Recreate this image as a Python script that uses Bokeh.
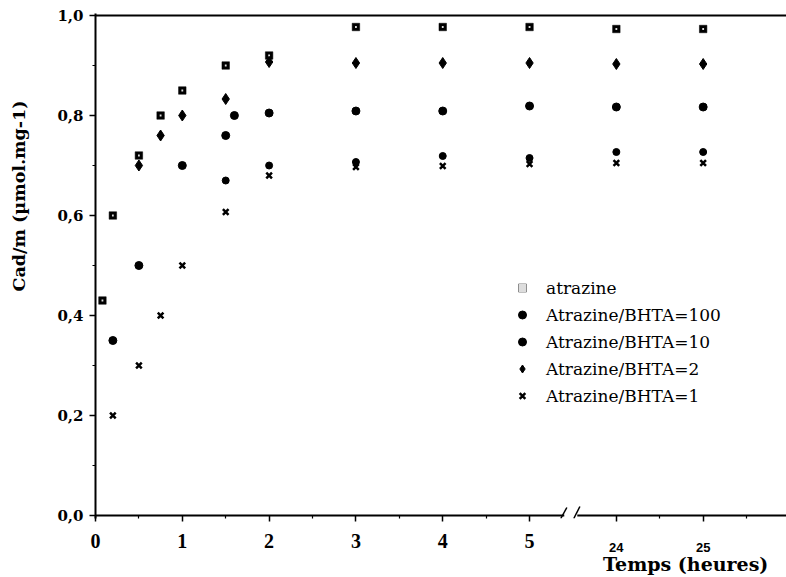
import numpy as np
from bokeh.plotting import figure
from bokeh.models import (FixedTicker, CustomJSTickFormatter, Span, LinearAxis,
                          Legend, LegendItem, Range1d)
from bokeh.embed import file_html
from bokeh.resources import INLINE

# ---------------- data (time in hours, Cad/m in umol/mg) ----------------
t_atrazine = [0.08, 0.2, 0.5, 0.75, 1.0, 1.5, 2.0, 3, 4, 5, 24, 25]
v_atrazine = [0.43, 0.60, 0.72, 0.80, 0.85, 0.90, 0.92, 0.977, 0.977, 0.977, 0.973, 0.973]

t_b100 = [1.5, 2.0, 3, 4, 5, 24, 25]
v_b100 = [0.67, 0.70, 0.707, 0.719, 0.715, 0.727, 0.727]

t_b10 = [0.2, 0.5, 1.0, 1.5, 1.6, 2.0, 3, 4, 5, 24, 25]
v_b10 = [0.35, 0.50, 0.70, 0.76, 0.80, 0.805, 0.809, 0.809, 0.819, 0.817, 0.817]

t_b2 = [0.5, 0.75, 1.0, 1.5, 2.0, 3, 4, 5, 24, 25]
v_b2 = [0.70, 0.76, 0.80, 0.833, 0.907, 0.905, 0.905, 0.905, 0.903, 0.903]

t_b1 = [0.2, 0.5, 0.75, 1.0, 1.5, 2.0, 3, 4, 5, 24, 25]
v_b1 = [0.20, 0.30, 0.40, 0.50, 0.607, 0.68, 0.697, 0.699, 0.703, 0.705, 0.705]

labels = ["atrazine", "Atrazine/BHTA=100", "Atrazine/BHTA=10",
          "Atrazine/BHTA=2", "Atrazine/BHTA=1"]

x_ticks_low = [0, 1, 2, 3, 4, 5]
x_ticks_high = [24, 25]
y_ticks = [0.0, 0.2, 0.4, 0.6, 0.8, 1.0]
y_minor = [0.1, 0.3, 0.5, 0.7, 0.9]

x_title = "Temps  (heures)"
y_title = "Cad/m  (\u00b5mol.mg-1)"

# broken time axis: hours >= 24 are moved to sit just after the break
SHIFT = 18.0
BREAK = (5.40, 5.55)
def pos(t):
    t = np.asarray(t, dtype=float)
    return np.where(t >= 12, t - SHIFT, t)

X_END = 7.96
NB = "\u00a0"

p = figure(width=786, height=577, x_range=Range1d(0, X_END), y_range=Range1d(-0.006, 1.004),
           output_backend="svg", toolbar_location=None,
           min_border_left=95, min_border_right=0, min_border_top=13, min_border_bottom=59)
p.grid.visible = False
p.outline_line_color = None
p.background_fill_color = "white"

# ---------- bottom axis (0..5 and the ticks after the break) ----------
xa = p.xaxis[0]
high_pos = [float(v) for v in pos(x_ticks_high)]
major_pos = [float(v) for v in x_ticks_low] + high_pos
minor_pos = [m + 0.5 for m in x_ticks_low[:-1]] + [h + 0.5 for h in high_pos]
xa.ticker = FixedTicker(ticks=major_pos, minor_ticks=minor_pos)
xa.formatter = CustomJSTickFormatter(code="return tick < 5.5 ? tick.toFixed(0) : '';")
xa.axis_line_color = None
xa.major_tick_line_width = 1.5
xa.minor_tick_line_width = 1.2
xa.major_tick_in = 3
xa.major_tick_out = 3
xa.minor_tick_in = 3
xa.minor_tick_out = 0
xa.major_label_standoff = 12
xa.major_label_text_font = "Liberation Serif"
xa.major_label_text_font_style = "bold"
xa.major_label_text_font_size = "20px"
xa.major_label_text_color = "black"

# second bottom axis: labels of the hours after the break and the title
xb = LinearAxis(ticker=FixedTicker(ticks=high_pos, minor_ticks=[]),
                formatter=CustomJSTickFormatter(args=dict(shift=SHIFT),
                                                code="return String(Math.round(tick + shift));"),
                axis_line_color=None, major_tick_line_color=None, minor_tick_line_color=None,
                major_tick_in=0, major_tick_out=0, minor_tick_in=0, minor_tick_out=0,
                major_label_standoff=-8,
                major_label_text_font="Liberation Sans", major_label_text_font_style="bold",
                major_label_text_font_size="13px", major_label_text_color="black",
                axis_label=NB * 75 + x_title,
                axis_label_standoff=-2, axis_label_text_font="DejaVu Serif",
                axis_label_text_font_style="bold", axis_label_text_font_size="19px",
                axis_label_text_color="black")
p.add_layout(xb, "below")

# ---------- left axis ----------
ya = p.yaxis[0]
ya.ticker = FixedTicker(ticks=y_ticks, minor_ticks=y_minor)
ya.formatter = CustomJSTickFormatter(code="return tick.toFixed(1).replace('.', ',');")
ya.axis_line_width = 2
ya.axis_line_color = "black"
ya.major_tick_line_width = 1.5
ya.minor_tick_line_width = 1.2
ya.major_tick_out = 6
ya.major_tick_in = 0
ya.minor_tick_out = 3
ya.minor_tick_in = 0
ya.major_label_standoff = 6
ya.major_label_text_font = "DejaVu Serif"
ya.major_label_text_font_style = "bold"
ya.major_label_text_font_size = "15px"
ya.major_label_text_color = "black"
ya.axis_label = NB * 24 + y_title
ya.axis_label_standoff = 25
ya.axis_label_text_font = "DejaVu Serif"
ya.axis_label_text_font_style = "bold"
ya.axis_label_text_font_size = "17.5px"
ya.axis_label_text_color = "black"

# baseline with the break marks, top border line
p.segment(x0=[0, BREAK[1]], y0=[0, 0], x1=[BREAK[0], X_END], y1=[0, 0],
          line_width=2, line_color="black")
p.segment(x0=[BREAK[0] - 0.04, BREAK[1] - 0.04], y0=[-0.006, -0.006],
          x1=[BREAK[0] + 0.03, BREAK[1] + 0.03], y1=[0.016, 0.018],
          line_width=1.5, line_color="black")
p.add_layout(Span(location=1.0, dimension="width", line_width=2, line_color="black"))

# ---------- data marks ----------
r_sq = p.scatter(pos(t_atrazine), v_atrazine, marker="square", size=7.5,
                 fill_color="black", line_color="black", line_width=0.5)
r_sq2 = p.scatter(pos(t_atrazine), v_atrazine, marker="square", size=1.8,
                  fill_color="#dddddd", line_color=None)
r_100 = p.scatter(pos(t_b100), v_b100, marker="circle", size=7,
                  fill_color="black", line_color="black")
r_10 = p.scatter(pos(t_b10), v_b10, marker="circle", size=8,
                 fill_color="black", line_color="black")
r_2 = p.scatter(pos(t_b2), v_b2, marker="diamond", size=11,
                fill_color="black", line_color="black")
r_1 = p.scatter(pos(t_b1), v_b1, marker="x", size=8, line_width=2.5, line_color="black")

legend = Legend(items=[LegendItem(label=labels[0], renderers=[r_sq, r_sq2]),
                       LegendItem(label=labels[1], renderers=[r_100]),
                       LegendItem(label=labels[2], renderers=[r_10]),
                       LegendItem(label=labels[3], renderers=[r_2]),
                       LegendItem(label=labels[4], renderers=[r_1])],
                location=(417, 112), border_line_color=None, background_fill_alpha=0,
                padding=0, margin=0, spacing=6, label_height=21, glyph_height=21,
                glyph_width=20, label_standoff=14, label_text_font="DejaVu Serif",
                label_text_font_size="17px", label_text_color="black")
p.add_layout(legend)

open("out.html", "w").write(file_html(p, INLINE))
